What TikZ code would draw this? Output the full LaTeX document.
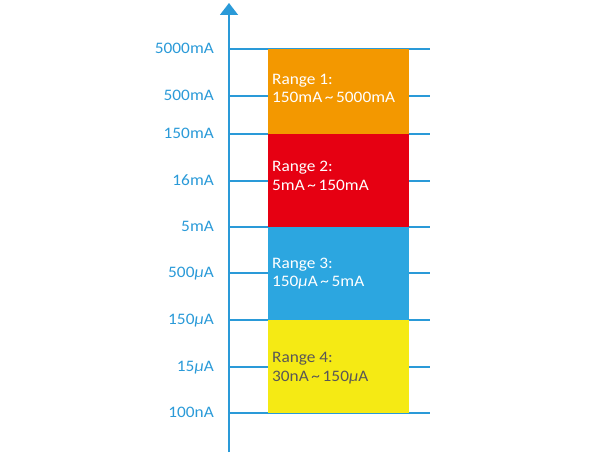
\documentclass[tikz,border=0pt]{standalone}
\usepackage{fontspec}
\setmainfont{Carlito}[FakeStretch=1.08]
\usetikzlibrary{arrows.meta}
\definecolor{axblue}{HTML}{2A9AD8}
\definecolor{r1}{HTML}{F39800}
\definecolor{r2}{HTML}{E60012}
\definecolor{r3}{HTML}{2CA6E0}
\definecolor{r4}{HTML}{F5EA14}
\definecolor{dgray}{HTML}{595757}
\newcommand{\umu}{\textit{μ}}
\newcommand{\tld}{\,\textasciitilde\,}
\begin{document}
\begin{tikzpicture}[x=1pt,y=-1pt,
  tick/.style={draw=axblue,line width=1.6pt},
  lab/.style={anchor=base east,text=axblue,font=\fontsize{16}{18}\selectfont,inner sep=0pt},
  boxtxt/.style={anchor=base west,align=left,font=\fontsize{16}{18.5}\selectfont,inner sep=0pt}]
\useasboundingbox (0,0) rectangle (600,460);
% ticks
\foreach \y/\t in {49/5000mA,96/500mA,134/150mA,181/16mA,227/5mA,273/500\umu A,320/150\umu A,367/15\umu A,413/100nA}{
  \draw[tick] (229,\y) -- (430,\y);
  \node[lab] at (214,\y+4.7) {\t};
}
% boxes
\fill[r1] (268,49) rectangle (409,134);
\fill[r2] (268,134) rectangle (409,227);
\fill[r3] (268,227) rectangle (409,320);
\fill[r4] (268,320) rectangle (409,413);
% axis
\coordinate (abot) at (229,452);
\coordinate (atop) at (229,3);
\draw[axblue,line width=1.6pt,-{Triangle[width=18pt,length=12pt]}] (abot) -- (atop);
% box texts (anchor at baseline of last line)
\node[boxtxt,text=white] (t1) at (272,102.7) {Range 1:\\150mA\tld 5000mA};
\node[boxtxt,text=white] (t2) at (272,190) {Range 2:\\5mA\tld 150mA};
\node[boxtxt,text=white] (t3) at (272,286.7) {Range 3:\\150\umu A\tld 5mA};
\node[boxtxt,text=dgray] (t4) at (272,381) {Range 4:\\30nA\tld 150\umu A};
\end{tikzpicture}
\end{document}
